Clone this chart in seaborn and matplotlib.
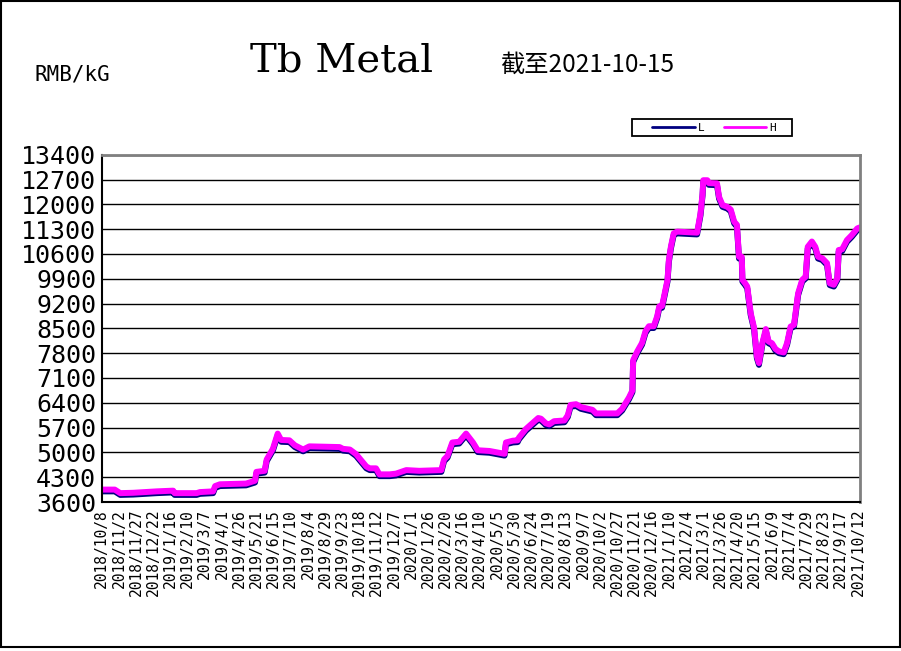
import matplotlib
matplotlib.use("Agg")
import pandas as pd
import matplotlib.pyplot as plt
import seaborn as sns
from matplotlib.patches import Rectangle

# price points (RMB/kG)
dates = [
    "2018-10-08", "2018-10-27", "2018-11-04", "2018-11-23", "2018-12-27",
    "2019-01-20", "2019-01-22", "2019-02-23", "2019-02-28", "2019-03-19", "2019-03-22", "2019-03-29", "2019-05-06",
    "2019-05-11", "2019-05-19", "2019-05-21", "2019-06-02", "2019-06-05", "2019-06-14", "2019-06-21", "2019-06-26",
    "2019-07-08", "2019-07-16", "2019-07-28", "2019-08-06", "2019-09-19", "2019-09-24", "2019-10-04", "2019-10-13",
    "2019-10-28", "2019-11-02", "2019-11-11", "2019-11-16", "2019-12-01", "2019-12-10", "2019-12-25",
    "2020-01-13", "2020-02-14", "2020-02-18", "2020-02-23", "2020-03-01", "2020-03-11", "2020-03-21", "2020-03-31",
    "2020-04-07", "2020-04-24", "2020-05-08", "2020-05-16", "2020-05-18", "2020-05-28", "2020-06-04", "2020-06-06",
    "2020-06-16", "2020-06-26", "2020-07-04", "2020-07-08", "2020-07-15", "2020-07-20", "2020-07-27", "2020-08-11",
    "2020-08-16", "2020-08-20", "2020-08-28", "2020-09-04", "2020-09-21", "2020-09-26", "2020-10-27", "2020-11-03",
    "2020-11-13", "2020-11-18", "2020-11-19", "2020-11-25", "2020-12-02", "2020-12-07", "2020-12-12", "2020-12-19",
    "2020-12-24", "2020-12-27", "2020-12-31",
    "2021-01-03", "2021-01-08", "2021-01-10", "2021-01-13", "2021-01-17", "2021-01-22", "2021-02-20", "2021-02-25",
    "2021-02-28", "2021-03-01", "2021-03-07", "2021-03-09", "2021-03-21", "2021-03-24", "2021-03-29", "2021-04-05",
    "2021-04-10", "2021-04-15", "2021-04-19", "2021-04-22", "2021-04-26", "2021-04-27", "2021-05-01", "2021-05-04",
    "2021-05-09", "2021-05-14", "2021-05-18", "2021-05-21", "2021-05-26", "2021-05-31", "2021-06-04", "2021-06-09",
    "2021-06-14", "2021-06-19", "2021-06-26", "2021-07-01", "2021-07-06", "2021-07-11", "2021-07-17", "2021-07-23",
    "2021-07-28", "2021-07-31", "2021-08-06", "2021-08-11", "2021-08-15", "2021-08-21", "2021-08-28", "2021-09-01",
    "2021-09-07", "2021-09-12", "2021-09-14", "2021-09-19", "2021-09-26", "2021-10-03", "2021-10-11", "2021-10-15",
]

price_h = [
    3950, 3950, 3850, 3860, 3900,
    3920, 3850, 3850, 3880, 3900, 4050, 4100, 4120,
    4150, 4200, 4450, 4480, 4800, 5100, 5530, 5350,
    5340, 5200, 5080, 5170, 5150, 5100, 5080, 4950,
    4600, 4550, 4550, 4380, 4380, 4400, 4500,
    4480, 4500, 4800, 4900, 5280, 5300, 5530, 5280,
    5060, 5040, 4990, 4960, 5280, 5330, 5340, 5420,
    5660, 5830, 5970, 5950, 5820, 5790, 5880, 5900,
    6050, 6340, 6360, 6280, 6200, 6100, 6100, 6230,
    6550, 6750, 7600, 7850, 8090, 8420, 8560, 8560,
    8840, 9120, 9130,
    9400, 9870, 10430, 10810, 11180, 11230, 11200, 11740,
    12300, 12680, 12680, 12600, 12590, 12210, 11980, 11930,
    11850, 11510, 11420, 10520, 10520, 9870, 9770, 9680,
    8930, 8510, 7710, 7520, 8090, 8480, 8130, 8080,
    7920, 7850, 7820, 8090, 8550, 8600, 9490, 9870,
    9960, 10800, 10950, 10800, 10520, 10480, 10340, 9770,
    9730, 9910, 10710, 10730, 10990, 11130, 11320, 11350,
]

price_l = [
    3900, 3900, 3800, 3810, 3850,
    3870, 3800, 3800, 3830, 3850, 4000, 4050, 4070,
    4100, 4150, 4400, 4430, 4750, 5050, 5480, 5300,
    5290, 5150, 5030, 5120, 5100, 5050, 5030, 4900,
    4550, 4500, 4500, 4330, 4330, 4350, 4450,
    4430, 4450, 4750, 4850, 5230, 5250, 5480, 5230,
    5010, 4990, 4940, 4910, 5230, 5280, 5290, 5370,
    5610, 5780, 5920, 5900, 5770, 5740, 5830, 5850,
    6000, 6290, 6310, 6230, 6150, 6050, 6050, 6180,
    6500, 6700, 7550, 7800, 8040, 8370, 8510, 8510,
    8790, 9070, 9080,
    9350, 9820, 10380, 10760, 11130, 11180, 11150, 11690,
    12250, 12630, 12630, 12550, 12540, 12160, 11930, 11880,
    11800, 11460, 11370, 10470, 10470, 9820, 9720, 9630,
    8880, 8460, 7660, 7470, 8040, 8430, 8080, 8030,
    7870, 7800, 7770, 8040, 8500, 8550, 9440, 9820,
    9910, 10750, 10900, 10750, 10470, 10430, 10290, 9720,
    9680, 9860, 10660, 10680, 10940, 11080, 11270, 11300,
]

tick_labels = [
    "2018/10/8", "2018/11/2", "2018/11/27", "2018/12/22", "2019/1/16", "2019/2/10", "2019/3/7",
    "2019/4/1", "2019/4/26", "2019/5/21", "2019/6/15", "2019/7/10", "2019/8/4", "2019/8/29",
    "2019/9/23", "2019/10/18", "2019/11/12", "2019/12/7", "2020/1/1", "2020/1/26", "2020/2/20",
    "2020/3/16", "2020/4/10", "2020/5/5", "2020/5/30", "2020/6/24", "2020/7/19", "2020/8/13",
    "2020/9/7", "2020/10/2", "2020/10/27", "2020/11/21", "2020/12/16", "2021/1/10", "2021/2/4",
    "2021/3/1", "2021/3/26", "2021/4/20", "2021/5/15", "2021/6/9", "2021/7/4", "2021/7/29",
    "2021/8/23", "2021/9/17", "2021/10/12",
]

y_ticks = [3600, 4300, 5000, 5700, 6400, 7100, 7800, 8500, 9200, 9900,
           10600, 11300, 12000, 12700, 13400]

df = pd.DataFrame({"date": pd.to_datetime(dates), "L": price_l, "H": price_h})

sns.set_theme(style="white")
plt.rcParams["font.family"] = ["DejaVu Sans Mono", "Noto Sans CJK SC"]
plt.rcParams["text.color"] = "black"
plt.rcParams["xtick.color"] = "black"
plt.rcParams["ytick.color"] = "black"

W, H = 901, 651
fig = plt.figure(figsize=(W / 100, H / 100), dpi=100)
ax = fig.add_axes([101.7 / W, 1 - 502 / H, (860 - 101.7) / W, (502 - 154.7) / H])

line_kw = dict(linewidth=4.3, solid_joinstyle="round", solid_capstyle="round")
sns.lineplot(data=df, x="date", y="L", ax=ax, color="#000080", label="L", **line_kw)
sns.lineplot(data=df, x="date", y="H", ax=ax, color="#ff00ff", label="H", **line_kw)

ax.set_xlim(pd.Timestamp("2018-10-08"), pd.Timestamp("2021-10-15"))
ax.set_ylim(3600, 13400)
ax.set_yticks(y_ticks)
ax.set_yticklabels([str(v) for v in y_ticks])
ax.set_xticks(pd.to_datetime(tick_labels, format="%Y/%m/%d"))
ax.set_xticklabels(tick_labels, rotation=90)
ax.set_xlabel("")
ax.set_ylabel("")

ax.set_axisbelow(True)
ax.yaxis.grid(True, color="black", linewidth=1)
ax.xaxis.grid(False)

ax.tick_params(axis="x", direction="in", length=5, width=1, color="black",
               pad=5, labelsize=10.5, labelcolor="black")
ax.tick_params(axis="y", length=0, pad=4, labelsize=18, labelcolor="black")

for side in ["left", "bottom"]:
    ax.spines[side].set_color("black")
    ax.spines[side].set_linewidth(1.5)
for side in ["top", "right"]:
    ax.spines[side].set_color("#808080")
    ax.spines[side].set_linewidth(2)

# legend box (drawn below the axes layer, outside the plot area)
fig.patches.append(Rectangle((632.3 / W, 1 - 136 / H), (791.7 - 632.3) / W, (136 - 119.3) / H,
                             transform=fig.transFigure, fill=True, facecolor="white",
                             edgecolor="black", linewidth=1.3, zorder=-1))
leg = ax.legend(ncol=2, loc="center left", bbox_to_anchor=(652.3 / W, 1 - 127.8 / H),
                bbox_transform=fig.transFigure, frameon=False, fontsize=8,
                handlelength=3.8, handletextpad=0.33, columnspacing=1.7,
                borderpad=0, borderaxespad=0)
for ln in leg.get_lines():
    ln.set_linewidth(2)

fig.text(250 / W, 1 - 72 / H, "Tb Metal", fontsize=29, family="DejaVu Serif",
         va="baseline", ha="left")
fig.text(500 / W, 1 - 72 / H, "截至2021-10-15", fontsize=17.5,
         family=["Noto Sans CJK SC", "DejaVu Sans"], va="baseline", ha="left")
fig.text(35 / W, 1 - 81 / H, "RMB/kG", fontsize=15, va="baseline", ha="left")

# outer frame
fig.patches.append(Rectangle((0.5 / W, 4.5 / H), 899 / W, 646 / H, transform=fig.transFigure,
                             fill=False, edgecolor="black", linewidth=1.5))

fig.savefig("out.png", dpi=100)
